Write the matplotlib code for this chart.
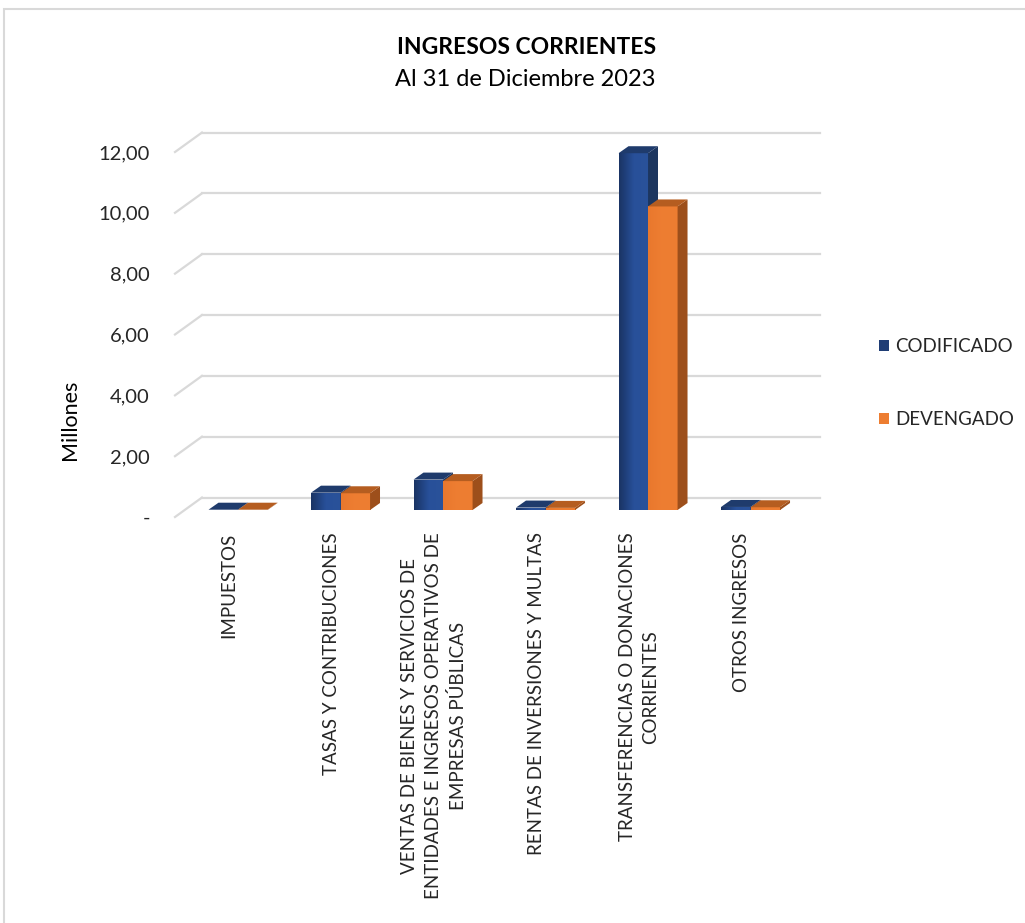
import numpy as np
import matplotlib.pyplot as plt
from matplotlib.patches import Polygon, Patch, Rectangle
from matplotlib.colors import LinearSegmentedColormap

# datos (millones)
categorias = ['IMPUESTOS',
              'TASAS Y CONTRIBUCIONES',
              'VENTAS DE BIENES Y SERVICIOS DE\nENTIDADES E INGRESOS OPERATIVOS DE\nEMPRESAS PÚBLICAS',
              'RENTAS DE INVERSIONES Y MULTAS',
              'TRANSFERENCIAS O DONACIONES\nCORRIENTES',
              'OTROS INGRESOS']
codificado = [0.01, 0.57, 1.00, 0.08, 11.73, 0.10]
devengado = [0.01, 0.55, 0.95, 0.07, 9.98, 0.09]
series = ['CODIFICADO', 'DEVENGADO']
y_ticks = [0, 2, 4, 6, 8, 10, 12]
y_tick_labels = ['-', '2,00', '4,00', '6,00', '8,00', '10,00', '12,00']

plt.rcParams['font.family'] = ['Lato', 'DejaVu Sans']

W, H = 1025, 923
fig = plt.figure(figsize=(W / 100, H / 100), dpi=100)
ax = fig.add_axes([175 / W, 1 - 517 / H, (793 - 175) / W, (517 - 152) / H])
x0, x1 = -0.527, 5.502
ax.set_xlim(x0, x1)
ax.set_ylim(0, 12)

# profundidad del "3D"
dxw, dyw = 0.263, 0.64     # pared del fondo
bx0, by0 = 0.088, 0.23     # cara frontal de las barras
bdx, bdy = 0.097, 0.23     # fondo de cada barra
w = 0.288

grid_c = '#d9d9d9'
for v in y_ticks:
    ax.plot([x0, x0 + dxw], [v, v + dyw], color=grid_c, lw=1.6, clip_on=False, zorder=1)
    ax.plot([x0 + dxw, x1 + dxw], [v + dyw, v + dyw], color=grid_c, lw=1.6, clip_on=False, zorder=1)

estilos = [
    {'front': ['#1a3464', '#28509a', '#2a5299'], 'side': '#1d365f', 'top': '#1f3b6c'},
    {'front': ['#e9782d', '#ee7e32', '#ed7d31'], 'side': '#9d4f1b', 'top': '#b55d20'},
]

x = np.arange(len(categorias))
z = 2
for i in x:
    for s, vals in enumerate([codificado, devengado]):
        st = estilos[s]
        xl = i + bx0 - w + s * w
        xr = xl + w
        h = vals[i]
        b = by0
        bar = ax.bar(xl, h, width=w, bottom=b, align='edge', color=st['front'][2],
                     zorder=z, clip_on=False)[0]
        cmap = LinearSegmentedColormap.from_list('g', st['front'])
        grad = np.linspace(0, 1, 64).reshape(1, -1)
        im = ax.imshow(grad, extent=[xl, xr, b, b + h], aspect='auto', cmap=cmap,
                       zorder=z + 0.1, clip_on=True)
        im.set_clip_path(bar)
        side = Polygon([(xr, b), (xr + bdx, b + bdy), (xr + bdx, b + h + bdy), (xr, b + h)],
                       closed=True, facecolor=st['side'], edgecolor='none', zorder=z + 0.2,
                       clip_on=False)
        top = Polygon([(xl, b + h), (xr, b + h), (xr + bdx, b + h + bdy), (xl + bdx, b + h + bdy)],
                      closed=True, facecolor=st['top'], edgecolor='none', zorder=z + 0.3,
                      clip_on=False)
        ax.add_patch(side)
        ax.add_patch(top)
        z += 1

ax.set_xlim(x0, x1)
ax.set_ylim(0, 12)

ax.set_yticks(y_ticks, y_tick_labels, fontsize=14.5, color='#262626')
ax.set_xticks(x, categorias, rotation=90, fontsize=13.5, color='#262626',
              va='top', ha='center', multialignment='center', linespacing=1.5)
ax.tick_params(axis='both', length=0)
ax.tick_params(axis='y', pad=18)
ax.tick_params(axis='x', pad=11)
for sp in ax.spines.values():
    sp.set_visible(False)
ax.patch.set_alpha(0)

fig.text(70 / W, 1 - 420 / H, 'Millones', rotation=90, fontsize=15.5, ha='center', va='center',
         color='#000000')
fig.text(527 / W, 1 - 47 / H, 'INGRESOS CORRIENTES', fontsize=16.5, fontweight='bold',
         ha='center', va='center', color='#000000')
fig.text(525 / W, 1 - 80 / H, 'Al 31 de Diciembre 2023', fontsize=17,
         ha='center', va='center', color='#000000')

handles = [Patch(facecolor='#1f3d75'), Patch(facecolor='#ed7d31')]
fig.legend(handles, series, loc='center left', bbox_to_anchor=(862 / W, 1 - 383 / H),
           frameon=False, fontsize=13.5, handlelength=0.55, handleheight=0.55,
           handletextpad=0.3, labelspacing=3.0, labelcolor='#262626')

fig.patches.append(Rectangle((4 / W, -0.1), 1.2, 1.1 - 9 / H, transform=fig.transFigure,
                             fill=False, edgecolor='#d9d9d9', lw=1.5))

fig.savefig('out.png', dpi=100, facecolor='white')
